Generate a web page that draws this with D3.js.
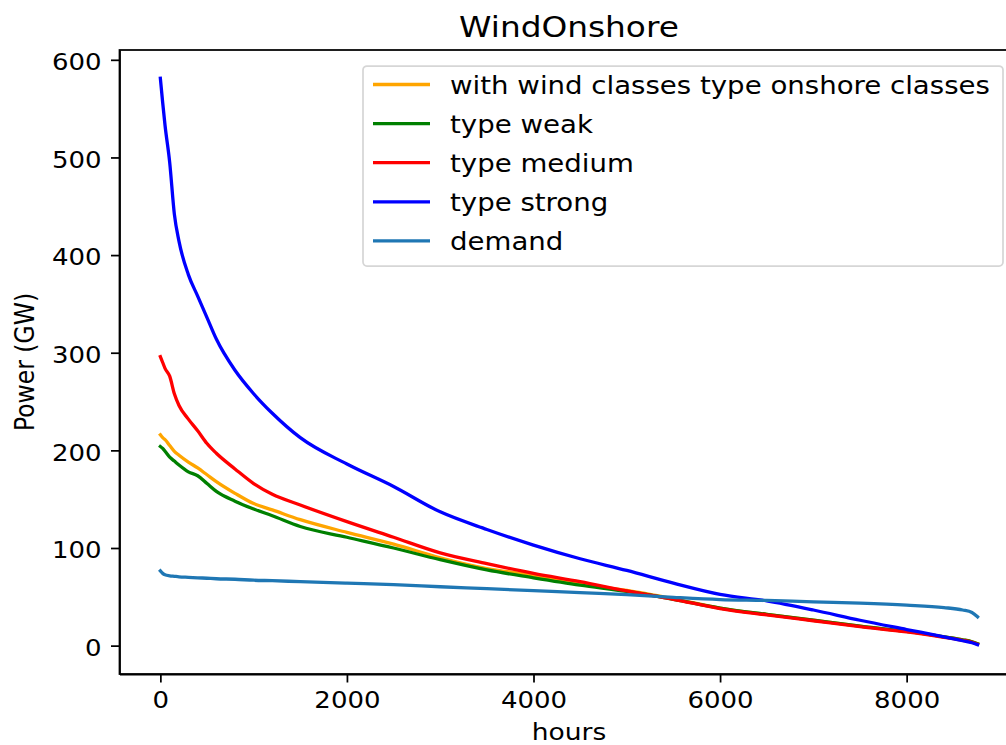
<!DOCTYPE html>
<html>
<head>
<meta charset="utf-8">
<script src="https://cdn.jsdelivr.net/npm/d3@7"></script>
<style>
  html, body { margin: 0; padding: 0; background: #fff; }
  svg { display: block; font-family: "DejaVu Sans", sans-serif; }
  text { fill: #000; }
  .domain, .tick line { stroke: #000; stroke-width: 1.75px; }
</style>
</head>
<body>
<script>
// sorted duration curves
const hours = [0, 25, 50, 100, 150, 200, 300, 400, 500, 600, 800, 1000, 1200, 1500, 2000, 2500,
  3000, 3500, 4000, 4500, 5000, 5500, 6000, 6500, 7000, 7500, 8000, 8400, 8600, 8700, 8760];

const onshoreClasses = [216, 213, 211, 205, 199, 195, 188, 182, 175, 168, 156, 145.5, 139, 129, 116, 104,
  90, 79, 72, 63, 56.5, 48, 38.5, 32, 26, 20, 14.5, 9, 6, 4, 2];
const typeWeak = [204, 202, 199, 193, 189, 185, 178, 174, 166, 158, 148, 140, 133, 122, 111, 100,
  88, 77.5, 69.5, 62, 55.5, 47.5, 38.5, 32, 26, 20, 14.5, 9, 6, 4, 2];
const typeMedium = [296, 290, 284, 276, 258, 246, 232, 220, 207, 197, 181, 166, 155, 144, 127, 111,
  95, 84, 74, 65.5, 56, 47.5, 38, 31.5, 25.5, 19.5, 14, 8.5, 5.5, 3.5, 1.5];
const typeStrong = [581, 556, 533, 495, 442, 414, 380, 358, 336, 314, 282, 258, 238, 213, 186, 163,
  137, 119, 103, 89, 77, 64, 52.5, 45.8, 36.5, 26, 16.5, 9, 5, 3, 1];
const demand = [76.5, 74, 72.5, 71.5, 71, 70.5, 70, 69.5, 69, 68.5, 68, 67, 66.5, 65.5, 64, 62.5,
  60.3, 58.3, 56.3, 54.2, 52.3, 49.5, 47.2, 46.3, 44.8, 43.5, 41.5, 39, 36.5, 34, 29.5];

const seriesNames = ['with wind classes type onshore classes', 'type weak', 'type medium', 'type strong', 'demand'];
const seriesValues = [onshoreClasses, typeWeak, typeMedium, typeStrong, demand];
const seriesColors = ['orange', 'green', 'red', 'blue', '#1f77b4'];

const xTicks = [0, 2000, 4000, 6000, 8000];
const yTicks = [0, 100, 200, 300, 400, 500, 600];

const width = 1006;
const height = 745;
const margin = { top: 50, right: -12.4, bottom: 71, left: 119.5 };
const innerWidth = width - margin.left - margin.right;
const innerHeight = height - margin.top - margin.bottom;

// the reference text is a bit wider than it is tall
const sx = 1.13;

const svg = d3.select('body').append('svg')
  .attr('width', width)
  .attr('height', height);

const g = svg.append('g')
  .attr('transform', `translate(${margin.left}, ${margin.top})`);

const xScale = d3.scaleLinear()
  .domain([-438, 9198])
  .range([0, innerWidth]);

const yScale = d3.scaleLinear()
  .domain([-29.05, 610.05])
  .range([innerHeight, 0]);

const xAxis = d3.axisBottom(xScale)
  .tickValues(xTicks)
  .tickFormat(d3.format('d'))
  .tickSizeInner(8.5)
  .tickSizeOuter(0);

const yAxis = d3.axisLeft(yScale)
  .tickValues(yTicks)
  .tickFormat(d3.format('d'))
  .tickSizeInner(8.5)
  .tickSizeOuter(0);

const line = d3.line()
  .x((d, i) => xScale(hours[i]))
  .y(d => yScale(d))
  .curve(d3.curveMonotoneX);

g.append('g')
  .attr('class', 'lines')
  .selectAll('path')
  .data(seriesValues)
  .enter().append('path')
  .attr('d', line)
  .attr('fill', 'none')
  .attr('stroke', (d, i) => seriesColors[i])
  .attr('stroke-width', 3.3)
  .attr('stroke-linejoin', 'round')
  .attr('stroke-linecap', 'square');

// frame
g.append('rect')
  .attr('width', innerWidth)
  .attr('height', innerHeight)
  .attr('fill', 'none')
  .attr('stroke', '#000')
  .attr('stroke-width', 1.75);

g.append('g')
  .attr('transform', `translate(0, ${innerHeight})`)
  .call(xAxis)
  .call(a => a.selectAll('.tick text')
    .attr('y', 34)
    .attr('dy', 0)
    .attr('transform', `scale(${sx}, 1)`)
    .style('font-family', '"DejaVu Sans", sans-serif')
    .style('font-size', '23px'));

g.append('g')
  .call(yAxis)
  .call(a => a.selectAll('.tick text')
    .attr('x', -18 / sx)
    .attr('dy', '0.42em')
    .attr('transform', `scale(${sx}, 1)`)
    .style('font-family', '"DejaVu Sans", sans-serif')
    .style('font-size', '23px'));

svg.append('text')
  .attr('transform', `translate(${margin.left + innerWidth / 2}, 37) scale(1.15, 1)`)
  .attr('text-anchor', 'middle')
  .style('font-size', '28.5px')
  .text('WindOnshore');

svg.append('text')
  .attr('transform', `translate(${margin.left + innerWidth / 2}, 740) scale(${sx}, 1)`)
  .attr('text-anchor', 'middle')
  .style('font-size', '23.5px')
  .text('hours');

svg.append('text')
  .attr('transform', `translate(34, ${margin.top + innerHeight / 2}) rotate(-90) scale(1, ${sx})`)
  .attr('text-anchor', 'middle')
  .style('font-size', '23.5px')
  .text('Power (GW)');

// legend
const legend = svg.append('g').attr('transform', 'translate(363, 66)');

legend.append('rect')
  .attr('width', 640)
  .attr('height', 200)
  .attr('rx', 4)
  .attr('fill', 'rgba(255,255,255,0.8)')
  .attr('stroke', '#d6d6d6')
  .attr('stroke-width', 1.75);

const entry = legend.selectAll('.entry')
  .data(seriesNames)
  .enter().append('g')
  .attr('class', 'entry')
  .attr('transform', (d, i) => `translate(0, ${18.5 + i * 39.1})`);

entry.append('line')
  .attr('x1', 10)
  .attr('x2', 67)
  .attr('stroke', (d, i) => seriesColors[i])
  .attr('stroke-width', 3.3);

entry.append('text')
  .attr('transform', 'translate(87, 9.5) scale(1.15, 1)')
  .style('font-size', '24px')
  .text(d => d);
</script>
</body>
</html>
